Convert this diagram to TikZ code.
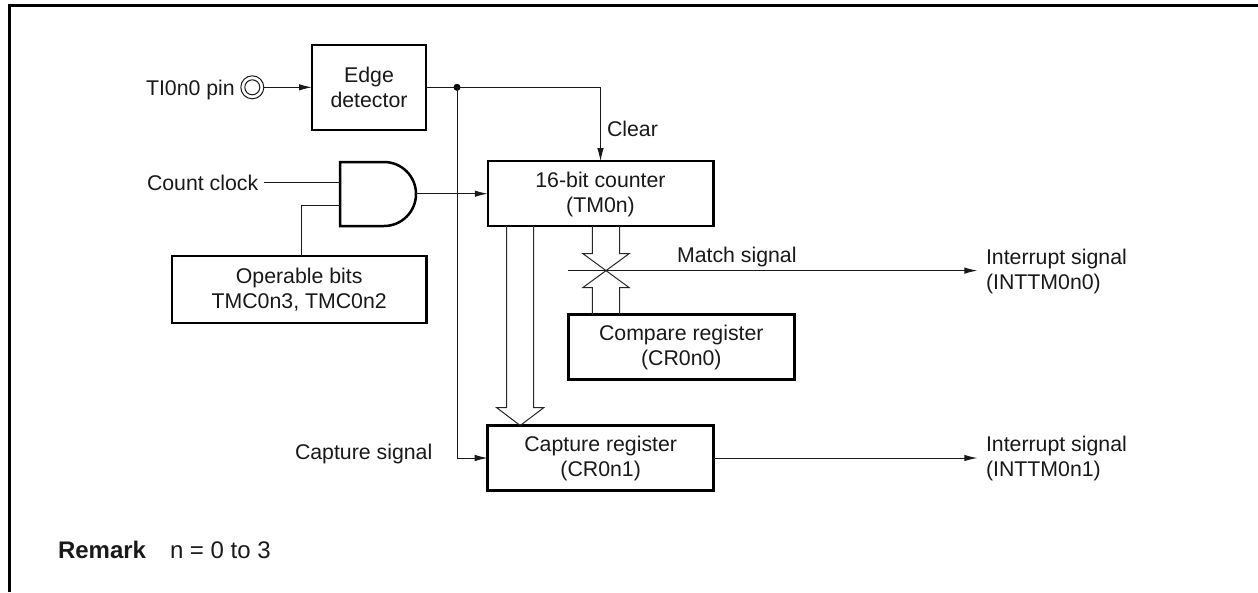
\documentclass[tikz,border=0pt]{standalone}
\usepackage{fontspec}
\setmainfont{Liberation Sans}
\usetikzlibrary{arrows.meta}
\newcommand{\tst}{\rule[-0.4pt]{0pt}{16.6pt}}
\tikzset{
  x=1pt,y=-1pt,
  every node/.style={font=\fontsize{21.3}{25}\selectfont,text=black!90,inner sep=0pt,outer sep=0pt},
  block/.style={draw=black,line width=2.5pt,fill=white,align=center,rectangle},
  lbl/.style={anchor=base west},
  big/.style={font=\fontsize{24}{28}\selectfont},
  sig/.style={line width=1pt,draw=black!90},
  arrowed/.style={sig,-{Latex[length=13pt,width=6.5pt]}},
  bus/.style={line width=1pt,draw=black!85,line join=miter},
  thick frame/.style={line width=3pt,draw=black}
}
\begin{document}
\begin{tikzpicture}
\useasboundingbox (0,0) rectangle (1258,592);
\draw[thick frame] (9.2,592) -- (9.2,5) -- (1258,5);

% blocks
\node[block,minimum width=114pt,minimum height=85pt] (edge) at (369,87.3) {\tst Edge\\\tst detector};
\node[block,minimum width=225.5pt,minimum height=65pt] (counter) at (600.5,193.7) {\tst 16-bit counter\\\tst (TM0n)};
\node[block,minimum width=226pt,minimum height=65pt] (compare) at (681.3,347) {\tst Compare register\\\tst (CR0n0)};
\node[block,minimum width=226pt,minimum height=65pt] (capture) at (600.7,458) {\tst Capture register\\\tst (CR0n1)};
\node[block,minimum width=254.5pt,minimum height=67pt] (oper) at (299.2,289.7) {\tst Operable bits\\\tst TMC0n3, TMC0n2};

% pin
\node[draw=black!90,line width=1pt,circle,minimum size=23pt] (pin) at (252.3,87.3) {};
\node[draw=black!90,line width=1pt,circle,minimum size=15pt] (pininner) at (252.3,87.3) {};
\node[lbl] (pinlabel) at (146,95) {TI0n0 pin};
\draw[arrowed] (pin.east) -- (edge.west);

% AND gate
\coordinate (gin1) at (340,182);
\coordinate (gin2) at (340,205);
\coordinate (gout) at (416,193.7);
\draw[line width=2.5pt,draw=black,line join=miter] (340,162) -- (384,162) arc[start angle=-90,end angle=90,radius=32] -- (340,226) -- cycle;
\node[lbl] (cclabel) at (147,190) {Count clock};
\coordinate (ccstart) at (264,182);
\draw[sig] (ccstart) -- (gin1);
\draw[sig] (oper.north -| 301,0) |- (gin2);
\draw[arrowed] (gout) -- (counter.west);

% edge detector outputs
\node[circle,fill=black,minimum size=7pt] (dot) at (457,87.3) {};
\draw[sig] (edge.east) -- (dot.center);
\draw[arrowed] (dot.center) -| (counter.north);
\node[lbl] (clear) at (607,136) {Clear};
\draw[arrowed] (dot.center) |- (capture.west);
\node[lbl] (capsig) at (295,459) {Capture signal};

% bus: counter to capture
\coordinate (cl) at (counter.south -| 506.7,0);
\coordinate (cr) at (counter.south -| 533.7,0);
\coordinate (ctip) at (capture.north -| 520.2,0);
\draw[bus] (cl) -- (506.7,407.7) -- (496.7,407.7) -- (ctip) -- (543.7,407.7) -- (533.7,407.7) -- (cr);

% bus: comparator
\coordinate (xc) at (606,270.6);
\draw[bus] (counter.south -| 592.3,0) -- (592.3,253.5) -- (582.7,253.5) -- (xc) -- (629.3,253.5) -- (619.5,253.5) -- (counter.south -| 619.5,0);
\draw[bus] (compare.north -| 592.3,0) -- (592.3,287.7) -- (582.7,287.7) -- (xc) -- (629.3,287.7) -- (619.5,287.7) -- (compare.north -| 619.5,0);

% match
\coordinate (mstart) at (567.7,270.6);
\coordinate (mend) at (977.3,270.6);
\draw[arrowed] (mstart) -- (mend);
\node[lbl] (match) at (677,262) {Match signal};
\node[anchor=west,align=left] (int0) at (986,270.6) {\tst Interrupt signal\\\tst (INTTM0n0)};

\coordinate (cend) at (977.3,458);
\draw[arrowed] (capture.east) -- (cend);
\node[anchor=west,align=left] (int1) at (986,457.8) {\tst Interrupt signal\\\tst (INTTM0n1)};

% remark
\node[lbl,big] (rem) at (58,558) {\textbf{Remark}};
\node[lbl,big] (remt) at (170,558) {n = 0 to 3};
\end{tikzpicture}
\end{document}
